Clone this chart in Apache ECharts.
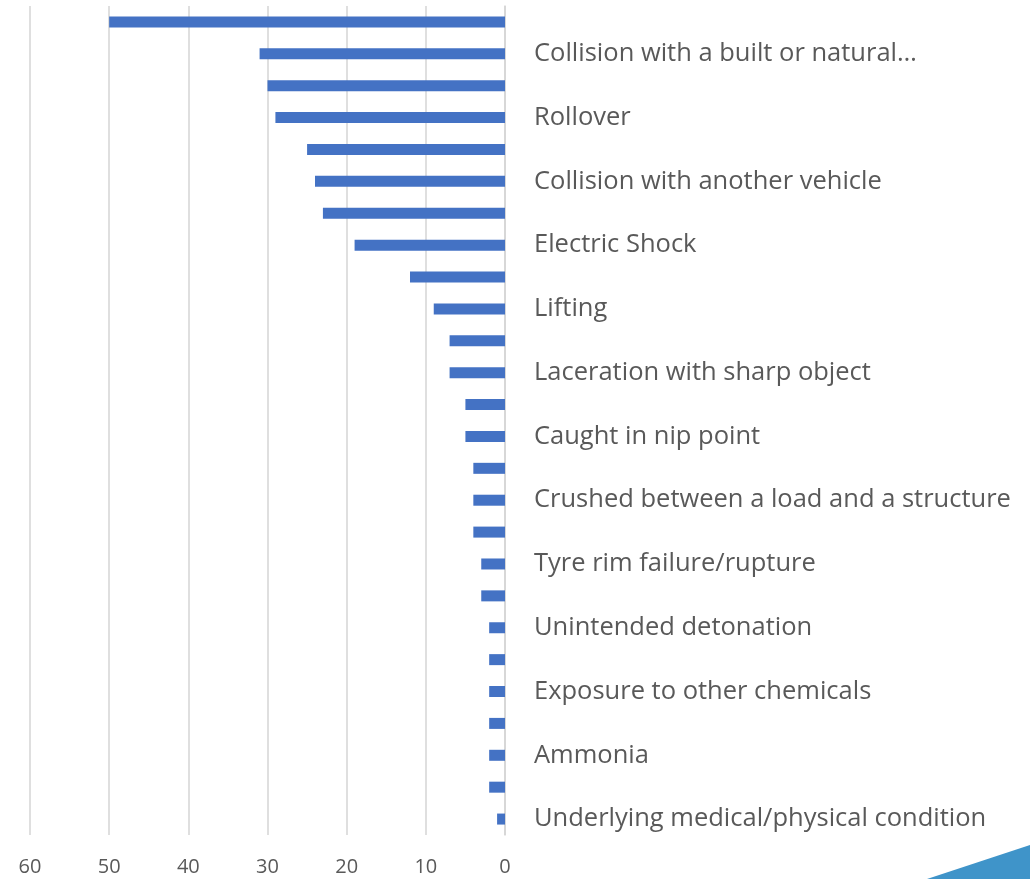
<!DOCTYPE html>
<html>
<head>
    <meta charset="utf-8">
    <title>Causes</title>
    <script src="https://cdn.jsdelivr.net/npm/echarts@6/dist/echarts.min.js"></script>
    <style>
        html, body { margin: 0; padding: 0; background: #fff; }
        #main { width: 1030px; height: 879px; }
    </style>
</head>
<body>
<div id="main"></div>
<script>
// categories top to bottom; only every other one carries a label in the picture
const categories = [
    '', 'Collision with a built or natural\u2026',
    '', 'Rollover',
    '', 'Collision with another vehicle',
    '', 'Electric Shock',
    '', 'Lifting',
    '', 'Laceration with sharp object',
    '', 'Caught in nip point',
    '', 'Crushed between a load and a structure',
    '', 'Tyre rim failure/rupture',
    '', 'Unintended detonation',
    '', 'Exposure to other chemicals',
    '', 'Ammonia',
    '', 'Underlying medical/physical condition'
];
const values = [50, 31, 30, 29, 25, 24, 23, 19, 12, 9, 7, 7, 5, 5, 4, 4, 4, 3, 3, 2, 2, 2, 2, 2, 2, 1];
const xTicks = [0, 10, 20, 30, 40, 50, 60];

const chart = echarts.init(document.getElementById('main'));
const font = '"Open Sans", sans-serif';

chart.setOption({
    animation: false,
    grid: { left: 30, right: 525, top: 6, bottom: 44, containLabel: false },
    xAxis: {
        type: 'value',
        inverse: true,
        min: xTicks[0],
        max: xTicks[xTicks.length - 1],
        interval: 10,
        axisLine: { show: false },
        axisTick: { show: false },
        axisLabel: { color: '#595959', fontSize: 20, fontFamily: font, margin: 22 },
        splitLine: { lineStyle: { color: '#d4d4d4', width: 1.5 } }
    },
    yAxis: {
        type: 'category',
        position: 'right',
        inverse: true,
        data: categories,
        axisLine: { show: true, lineStyle: { color: '#d4d4d4', width: 1.5 } },
        axisTick: { show: false },
        axisLabel: {
            interval: 0,
            color: '#595959',
            fontSize: 25.5,
            fontFamily: font,
            margin: 29,
            padding: [3, 0, 0, 0]
        }
    },
    series: [{
        type: 'bar',
        data: values,
        barWidth: 11,
        itemStyle: { color: '#4472c4' }
    }],
    graphic: [{
        type: 'polygon',
        shape: { points: [[927, 879], [1030, 845], [1030, 879]] },
        style: { fill: '#3f94c9' }
    }]
});
</script>
</body>
</html>
